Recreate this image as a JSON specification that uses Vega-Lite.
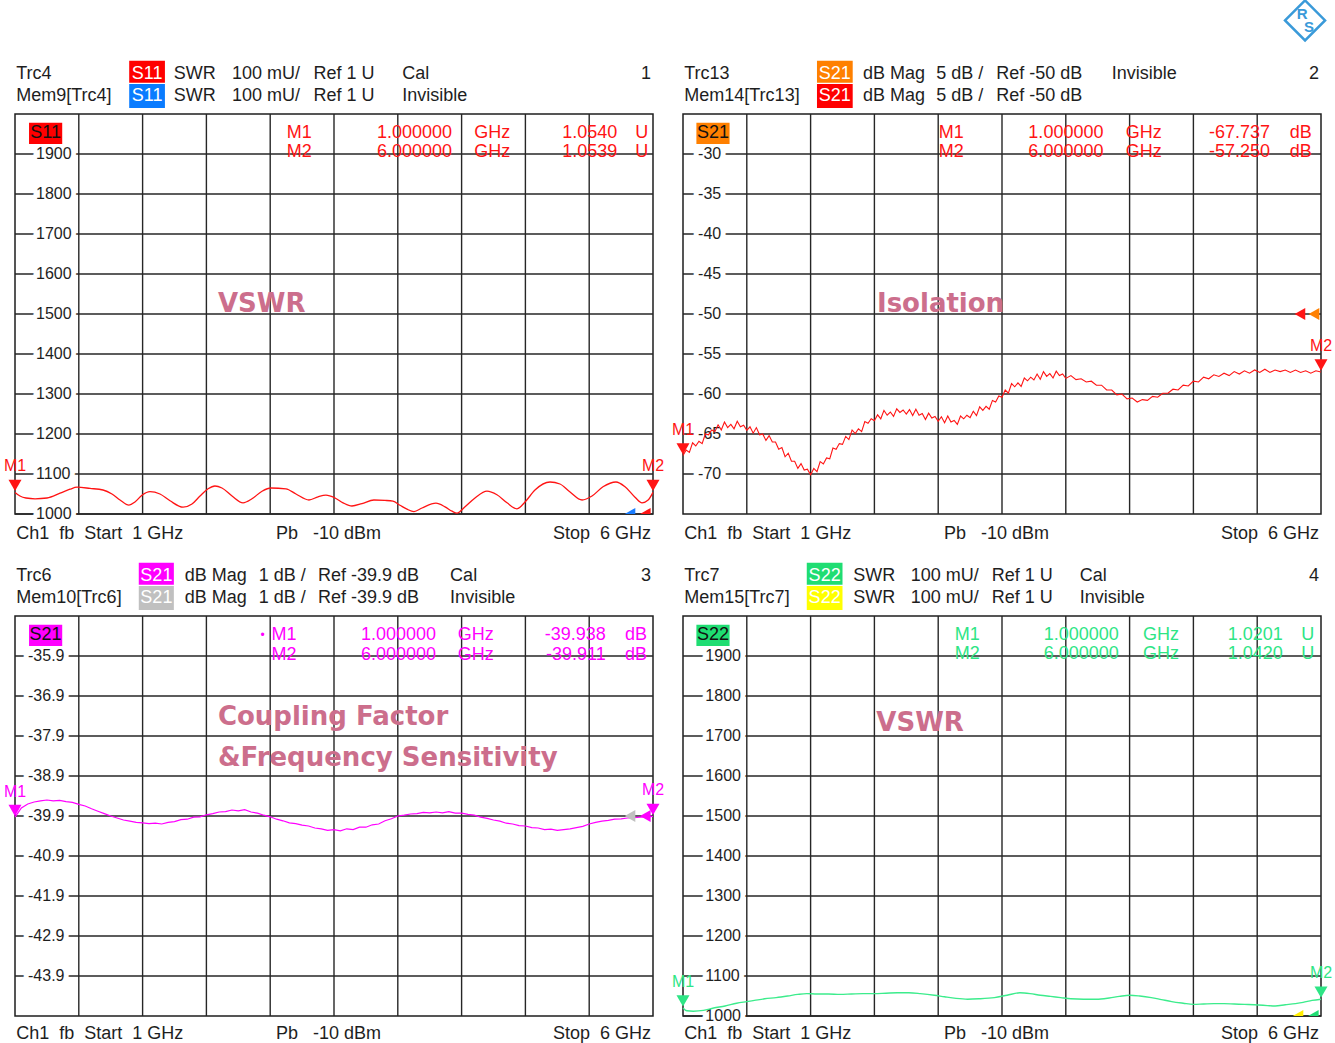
{
"$schema": "https://vega.github.io/schema/vega-lite/v6.json",
"background": "white",
"padding": {"left": -1, "top": -6, "right": 0, "bottom": 0},
"autosize": {"type": "pad"},
"bounds": "flush",
"columns": 2,
"spacing": {"row": 102, "column": 30},
"config": {
  "view": {"stroke": "#1e1e1e", "strokeWidth": 1.5},
  "axis": {"disable": true},
  "text": {"font": "Liberation Sans", "fontSize": 18, "color": "#1e1e1e"}
},
"data": {"values": [{}]},
"datasets": {
  "vgrid": [{"f":1.5},{"f":2},{"f":2.5},{"f":3},{"f":3.5},{"f":4},{"f":4.5},{"f":5},{"f":5.5}],
  "ticks": [
    {"p":1,"v":1900,"lab":"1900"},{"p":1,"v":1800,"lab":"1800"},{"p":1,"v":1700,"lab":"1700"},{"p":1,"v":1600,"lab":"1600"},{"p":1,"v":1500,"lab":"1500"},{"p":1,"v":1400,"lab":"1400"},{"p":1,"v":1300,"lab":"1300"},{"p":1,"v":1200,"lab":"1200"},{"p":1,"v":1100,"lab":"1100"},{"p":1,"v":1000,"lab":"1000"},
    {"p":2,"v":-30,"lab":"-30"},{"p":2,"v":-35,"lab":"-35"},{"p":2,"v":-40,"lab":"-40"},{"p":2,"v":-45,"lab":"-45"},{"p":2,"v":-50,"lab":"-50"},{"p":2,"v":-55,"lab":"-55"},{"p":2,"v":-60,"lab":"-60"},{"p":2,"v":-65,"lab":"-65"},{"p":2,"v":-70,"lab":"-70"},
    {"p":3,"v":-35.9,"lab":"-35.9"},{"p":3,"v":-36.9,"lab":"-36.9"},{"p":3,"v":-37.9,"lab":"-37.9"},{"p":3,"v":-38.9,"lab":"-38.9"},{"p":3,"v":-39.9,"lab":"-39.9"},{"p":3,"v":-40.9,"lab":"-40.9"},{"p":3,"v":-41.9,"lab":"-41.9"},{"p":3,"v":-42.9,"lab":"-42.9"},{"p":3,"v":-43.9,"lab":"-43.9"},
    {"p":4,"v":1900,"lab":"1900"},{"p":4,"v":1800,"lab":"1800"},{"p":4,"v":1700,"lab":"1700"},{"p":4,"v":1600,"lab":"1600"},{"p":4,"v":1500,"lab":"1500"},{"p":4,"v":1400,"lab":"1400"},{"p":4,"v":1300,"lab":"1300"},{"p":4,"v":1200,"lab":"1200"},{"p":4,"v":1100,"lab":"1100"},{"p":4,"v":1000,"lab":"1000"}
  ],
  "markers": [
    {"p":1,"m":"M1","f":1,"v":1054.0},{"p":1,"m":"M2","f":6,"v":1053.9},
    {"p":2,"m":"M1","f":1,"v":-67.737},{"p":2,"m":"M2","f":6,"v":-57.25},
    {"p":3,"m":"M1","f":1,"v":-39.938},{"p":3,"m":"M2","f":6,"v":-39.911},
    {"p":4,"m":"M1","f":1,"v":1020.1},{"p":4,"m":"M2","f":6,"v":1042.0}
  ],
  "trace": [
    {"p":1,"f":1.000,"v":1054},{"p":1,"f":1.039,"v":1045},{"p":1,"f":1.086,"v":1040},{"p":1,"f":1.157,"v":1038},{"p":1,"f":1.251,"v":1040},{"p":1,"f":1.353,"v":1052},{"p":1,"f":1.431,"v":1062},{"p":1,"f":1.486,"v":1067},{"p":1,"f":1.588,"v":1064},{"p":1,"f":1.690,"v":1060},{"p":1,"f":1.760,"v":1050},{"p":1,"f":1.823,"v":1035},{"p":1,"f":1.893,"v":1022},{"p":1,"f":1.940,"v":1030},{"p":1,"f":1.995,"v":1047},{"p":1,"f":2.058,"v":1056},{"p":1,"f":2.136,"v":1050},{"p":1,"f":2.215,"v":1033},{"p":1,"f":2.317,"v":1017},{"p":1,"f":2.387,"v":1025},{"p":1,"f":2.450,"v":1045},{"p":1,"f":2.513,"v":1063},{"p":1,"f":2.567,"v":1070},{"p":1,"f":2.622,"v":1065},{"p":1,"f":2.701,"v":1045},{"p":1,"f":2.787,"v":1028},{"p":1,"f":2.857,"v":1038},{"p":1,"f":2.936,"v":1057},{"p":1,"f":3.006,"v":1065},{"p":1,"f":3.124,"v":1063},{"p":1,"f":3.202,"v":1050},{"p":1,"f":3.304,"v":1035},{"p":1,"f":3.375,"v":1043},{"p":1,"f":3.437,"v":1047},{"p":1,"f":3.508,"v":1040},{"p":1,"f":3.571,"v":1028},{"p":1,"f":3.641,"v":1020},{"p":1,"f":3.719,"v":1026},{"p":1,"f":3.813,"v":1035},{"p":1,"f":3.900,"v":1034},{"p":1,"f":3.962,"v":1032},{"p":1,"f":4.017,"v":1022},{"p":1,"f":4.072,"v":1012},{"p":1,"f":4.127,"v":1006},{"p":1,"f":4.190,"v":1015},{"p":1,"f":4.299,"v":1027},{"p":1,"f":4.370,"v":1018},{"p":1,"f":4.425,"v":1007},{"p":1,"f":4.464,"v":1002},{"p":1,"f":4.527,"v":1018},{"p":1,"f":4.605,"v":1040},{"p":1,"f":4.699,"v":1057},{"p":1,"f":4.777,"v":1048},{"p":1,"f":4.856,"v":1028},{"p":1,"f":4.934,"v":1013},{"p":1,"f":4.997,"v":1030},{"p":1,"f":5.075,"v":1060},{"p":1,"f":5.193,"v":1080},{"p":1,"f":5.271,"v":1075},{"p":1,"f":5.350,"v":1055},{"p":1,"f":5.444,"v":1035},{"p":1,"f":5.522,"v":1045},{"p":1,"f":5.608,"v":1068},{"p":1,"f":5.710,"v":1080},{"p":1,"f":5.781,"v":1068},{"p":1,"f":5.859,"v":1042},{"p":1,"f":5.914,"v":1028},{"p":1,"f":5.962,"v":1035},{"p":1,"f":6.000,"v":1054},
    {"p":2,"f":1.000,"v":-67.7},{"p":2,"f":1.025,"v":-67.0},{"p":2,"f":1.050,"v":-67.3},{"p":2,"f":1.075,"v":-66.1},{"p":2,"f":1.100,"v":-66.5},{"p":2,"f":1.125,"v":-65.9},{"p":2,"f":1.150,"v":-66.2},{"p":2,"f":1.175,"v":-65.0},{"p":2,"f":1.200,"v":-65.1},{"p":2,"f":1.225,"v":-64.5},{"p":2,"f":1.250,"v":-64.7},{"p":2,"f":1.275,"v":-63.85},{"p":2,"f":1.300,"v":-64.5},{"p":2,"f":1.325,"v":-63.5},{"p":2,"f":1.350,"v":-64.2},{"p":2,"f":1.375,"v":-63.8},{"p":2,"f":1.400,"v":-64.35},{"p":2,"f":1.425,"v":-63.4},{"p":2,"f":1.450,"v":-64.1},{"p":2,"f":1.475,"v":-63.9},{"p":2,"f":1.500,"v":-64.55},{"p":2,"f":1.525,"v":-64.1},{"p":2,"f":1.550,"v":-64.9},{"p":2,"f":1.575,"v":-64.2},{"p":2,"f":1.600,"v":-65.1},{"p":2,"f":1.625,"v":-65.0},{"p":2,"f":1.650,"v":-65.8},{"p":2,"f":1.675,"v":-65.2},{"p":2,"f":1.700,"v":-66.0},{"p":2,"f":1.725,"v":-66.0},{"p":2,"f":1.750,"v":-66.9},{"p":2,"f":1.775,"v":-66.7},{"p":2,"f":1.800,"v":-67.85},{"p":2,"f":1.825,"v":-67.4},{"p":2,"f":1.850,"v":-68.4},{"p":2,"f":1.875,"v":-68.4},{"p":2,"f":1.900,"v":-69.3},{"p":2,"f":1.925,"v":-68.7},{"p":2,"f":1.950,"v":-69.5},{"p":2,"f":1.975,"v":-69.4},{"p":2,"f":2.000,"v":-70.1},{"p":2,"f":2.025,"v":-69.3},{"p":2,"f":2.050,"v":-69.7},{"p":2,"f":2.075,"v":-68.45},{"p":2,"f":2.100,"v":-68.75},{"p":2,"f":2.125,"v":-68.0},{"p":2,"f":2.150,"v":-68.1},{"p":2,"f":2.175,"v":-66.75},{"p":2,"f":2.200,"v":-66.9},{"p":2,"f":2.225,"v":-66.2},{"p":2,"f":2.250,"v":-66.3},{"p":2,"f":2.275,"v":-65.3},{"p":2,"f":2.300,"v":-65.7},{"p":2,"f":2.325,"v":-64.5},{"p":2,"f":2.350,"v":-64.95},{"p":2,"f":2.375,"v":-64.35},{"p":2,"f":2.400,"v":-64.7},{"p":2,"f":2.425,"v":-63.45},{"p":2,"f":2.450,"v":-63.65},{"p":2,"f":2.475,"v":-63.1},{"p":2,"f":2.500,"v":-63.35},{"p":2,"f":2.525,"v":-62.6},{"p":2,"f":2.550,"v":-63.1},{"p":2,"f":2.575,"v":-62.05},{"p":2,"f":2.600,"v":-62.65},{"p":2,"f":2.625,"v":-62.25},{"p":2,"f":2.650,"v":-62.8},{"p":2,"f":2.675,"v":-61.85},{"p":2,"f":2.700,"v":-62.3},{"p":2,"f":2.725,"v":-62.0},{"p":2,"f":2.750,"v":-62.5},{"p":2,"f":2.775,"v":-61.95},{"p":2,"f":2.800,"v":-62.7},{"p":2,"f":2.825,"v":-61.9},{"p":2,"f":2.850,"v":-62.65},{"p":2,"f":2.875,"v":-62.45},{"p":2,"f":2.900,"v":-63.2},{"p":2,"f":2.925,"v":-62.4},{"p":2,"f":2.950,"v":-63.0},{"p":2,"f":2.975,"v":-62.8},{"p":2,"f":3.000,"v":-63.4},{"p":2,"f":3.025,"v":-62.85},{"p":2,"f":3.050,"v":-63.6},{"p":2,"f":3.075,"v":-62.75},{"p":2,"f":3.100,"v":-63.5},{"p":2,"f":3.125,"v":-63.3},{"p":2,"f":3.150,"v":-63.8},{"p":2,"f":3.175,"v":-62.75},{"p":2,"f":3.200,"v":-63.1},{"p":2,"f":3.225,"v":-62.65},{"p":2,"f":3.250,"v":-62.95},{"p":2,"f":3.275,"v":-62.15},{"p":2,"f":3.300,"v":-62.7},{"p":2,"f":3.325,"v":-61.6},{"p":2,"f":3.350,"v":-62.05},{"p":2,"f":3.375,"v":-61.55},{"p":2,"f":3.400,"v":-61.9},{"p":2,"f":3.425,"v":-60.8},{"p":2,"f":3.450,"v":-61.0},{"p":2,"f":3.475,"v":-60.25},{"p":2,"f":3.500,"v":-60.4},{"p":2,"f":3.525,"v":-59.5},{"p":2,"f":3.550,"v":-59.9},{"p":2,"f":3.575,"v":-58.7},{"p":2,"f":3.600,"v":-59.1},{"p":2,"f":3.625,"v":-58.6},{"p":2,"f":3.650,"v":-59.05},{"p":2,"f":3.675,"v":-58.0},{"p":2,"f":3.700,"v":-58.35},{"p":2,"f":3.725,"v":-57.9},{"p":2,"f":3.750,"v":-58.25},{"p":2,"f":3.775,"v":-57.5},{"p":2,"f":3.800,"v":-58.15},{"p":2,"f":3.825,"v":-57.2},{"p":2,"f":3.850,"v":-57.8},{"p":2,"f":3.875,"v":-57.45},{"p":2,"f":3.900,"v":-58.0},{"p":2,"f":3.925,"v":-57.15},{"p":2,"f":3.950,"v":-57.7},{"p":2,"f":3.975,"v":-57.5},{"p":2,"f":4.000,"v":-58.05},{"p":2,"f":4.04,"v":-57.7},{"p":2,"f":4.08,"v":-58.2},{"p":2,"f":4.12,"v":-58.1},{"p":2,"f":4.16,"v":-58.5},{"p":2,"f":4.20,"v":-58.4},{"p":2,"f":4.24,"v":-58.9},{"p":2,"f":4.28,"v":-58.9},{"p":2,"f":4.32,"v":-59.5},{"p":2,"f":4.36,"v":-59.5},{"p":2,"f":4.40,"v":-60.1},{"p":2,"f":4.44,"v":-60.0},{"p":2,"f":4.48,"v":-60.6},{"p":2,"f":4.52,"v":-60.5},{"p":2,"f":4.56,"v":-61.0},{"p":2,"f":4.60,"v":-60.7},{"p":2,"f":4.64,"v":-60.8},{"p":2,"f":4.68,"v":-60.3},{"p":2,"f":4.72,"v":-60.4},{"p":2,"f":4.76,"v":-59.9},{"p":2,"f":4.80,"v":-59.9},{"p":2,"f":4.84,"v":-59.4},{"p":2,"f":4.88,"v":-59.5},{"p":2,"f":4.92,"v":-58.9},{"p":2,"f":4.96,"v":-59.0},{"p":2,"f":5.00,"v":-58.4},{"p":2,"f":5.04,"v":-58.5},{"p":2,"f":5.08,"v":-57.9},{"p":2,"f":5.12,"v":-58.1},{"p":2,"f":5.16,"v":-57.6},{"p":2,"f":5.20,"v":-57.8},{"p":2,"f":5.24,"v":-57.4},{"p":2,"f":5.28,"v":-57.7},{"p":2,"f":5.32,"v":-57.2},{"p":2,"f":5.36,"v":-57.5},{"p":2,"f":5.40,"v":-57.1},{"p":2,"f":5.44,"v":-57.4},{"p":2,"f":5.48,"v":-57.0},{"p":2,"f":5.52,"v":-57.3},{"p":2,"f":5.56,"v":-56.9},{"p":2,"f":5.60,"v":-57.3},{"p":2,"f":5.64,"v":-57.0},{"p":2,"f":5.68,"v":-57.2},{"p":2,"f":5.72,"v":-57.0},{"p":2,"f":5.76,"v":-57.3},{"p":2,"f":5.80,"v":-57.0},{"p":2,"f":5.84,"v":-57.3},{"p":2,"f":5.88,"v":-57.1},{"p":2,"f":5.92,"v":-57.4},{"p":2,"f":5.96,"v":-57.1},{"p":2,"f":6.00,"v":-57.25},
    {"p":3,"f":1.00,"v":-39.93},{"p":3,"f":1.05,"v":-39.70},{"p":3,"f":1.10,"v":-39.60},{"p":3,"f":1.15,"v":-39.55},{"p":3,"f":1.20,"v":-39.52},{"p":3,"f":1.25,"v":-39.50},{"p":3,"f":1.30,"v":-39.52},{"p":3,"f":1.35,"v":-39.51},{"p":3,"f":1.40,"v":-39.54},{"p":3,"f":1.45,"v":-39.56},{"p":3,"f":1.50,"v":-39.61},{"p":3,"f":1.55,"v":-39.65},{"p":3,"f":1.60,"v":-39.72},{"p":3,"f":1.65,"v":-39.78},{"p":3,"f":1.70,"v":-39.84},{"p":3,"f":1.75,"v":-39.90},{"p":3,"f":1.80,"v":-39.95},{"p":3,"f":1.85,"v":-40.00},{"p":3,"f":1.90,"v":-40.03},{"p":3,"f":1.95,"v":-40.06},{"p":3,"f":2.00,"v":-40.07},{"p":3,"f":2.05,"v":-40.09},{"p":3,"f":2.10,"v":-40.08},{"p":3,"f":2.15,"v":-40.10},{"p":3,"f":2.20,"v":-40.06},{"p":3,"f":2.25,"v":-40.04},{"p":3,"f":2.30,"v":-39.99},{"p":3,"f":2.35,"v":-39.98},{"p":3,"f":2.40,"v":-39.93},{"p":3,"f":2.45,"v":-39.92},{"p":3,"f":2.50,"v":-39.87},{"p":3,"f":2.55,"v":-39.84},{"p":3,"f":2.60,"v":-39.80},{"p":3,"f":2.65,"v":-39.79},{"p":3,"f":2.70,"v":-39.75},{"p":3,"f":2.75,"v":-39.77},{"p":3,"f":2.80,"v":-39.74},{"p":3,"f":2.85,"v":-39.80},{"p":3,"f":2.90,"v":-39.83},{"p":3,"f":2.95,"v":-39.88},{"p":3,"f":3.00,"v":-39.92},{"p":3,"f":3.05,"v":-39.98},{"p":3,"f":3.10,"v":-40.02},{"p":3,"f":3.15,"v":-40.07},{"p":3,"f":3.20,"v":-40.09},{"p":3,"f":3.25,"v":-40.13},{"p":3,"f":3.30,"v":-40.15},{"p":3,"f":3.35,"v":-40.20},{"p":3,"f":3.40,"v":-40.22},{"p":3,"f":3.45,"v":-40.26},{"p":3,"f":3.50,"v":-40.24},{"p":3,"f":3.55,"v":-40.27},{"p":3,"f":3.60,"v":-40.22},{"p":3,"f":3.65,"v":-40.24},{"p":3,"f":3.70,"v":-40.18},{"p":3,"f":3.75,"v":-40.18},{"p":3,"f":3.80,"v":-40.12},{"p":3,"f":3.85,"v":-40.10},{"p":3,"f":3.90,"v":-40.02},{"p":3,"f":3.95,"v":-39.97},{"p":3,"f":4.00,"v":-39.90},{"p":3,"f":4.05,"v":-39.88},{"p":3,"f":4.10,"v":-39.85},{"p":3,"f":4.15,"v":-39.84},{"p":3,"f":4.20,"v":-39.81},{"p":3,"f":4.25,"v":-39.82},{"p":3,"f":4.30,"v":-39.80},{"p":3,"f":4.35,"v":-39.82},{"p":3,"f":4.40,"v":-39.79},{"p":3,"f":4.45,"v":-39.83},{"p":3,"f":4.50,"v":-39.83},{"p":3,"f":4.55,"v":-39.86},{"p":3,"f":4.60,"v":-39.88},{"p":3,"f":4.65,"v":-39.93},{"p":3,"f":4.70,"v":-39.96},{"p":3,"f":4.75,"v":-40.00},{"p":3,"f":4.80,"v":-40.03},{"p":3,"f":4.85,"v":-40.08},{"p":3,"f":4.90,"v":-40.10},{"p":3,"f":4.95,"v":-40.14},{"p":3,"f":5.00,"v":-40.15},{"p":3,"f":5.05,"v":-40.19},{"p":3,"f":5.10,"v":-40.20},{"p":3,"f":5.15,"v":-40.24},{"p":3,"f":5.20,"v":-40.23},{"p":3,"f":5.25,"v":-40.26},{"p":3,"f":5.30,"v":-40.24},{"p":3,"f":5.35,"v":-40.22},{"p":3,"f":5.40,"v":-40.19},{"p":3,"f":5.45,"v":-40.16},{"p":3,"f":5.50,"v":-40.10},{"p":3,"f":5.55,"v":-40.06},{"p":3,"f":5.60,"v":-40.03},{"p":3,"f":5.65,"v":-40.01},{"p":3,"f":5.70,"v":-39.98},{"p":3,"f":5.75,"v":-39.97},{"p":3,"f":5.80,"v":-39.95},{"p":3,"f":5.85,"v":-39.94},{"p":3,"f":5.90,"v":-39.93},{"p":3,"f":5.95,"v":-39.92},{"p":3,"f":6.00,"v":-39.91},
    {"p":4,"f":1.00,"v":1020.1},{"p":4,"f":1.03,"v":1013},{"p":4,"f":1.08,"v":1012},{"p":4,"f":1.16,"v":1014},{"p":4,"f":1.24,"v":1020},{"p":4,"f":1.33,"v":1025},{"p":4,"f":1.42,"v":1032},{"p":4,"f":1.50,"v":1036},{"p":4,"f":1.56,"v":1039},{"p":4,"f":1.64,"v":1043},{"p":4,"f":1.73,"v":1046},{"p":4,"f":1.82,"v":1050},{"p":4,"f":1.90,"v":1054},{"p":4,"f":1.97,"v":1056},{"p":4,"f":2.05,"v":1055},{"p":4,"f":2.14,"v":1055},{"p":4,"f":2.23,"v":1054},{"p":4,"f":2.32,"v":1055},{"p":4,"f":2.41,"v":1056},{"p":4,"f":2.50,"v":1056},{"p":4,"f":2.59,"v":1057},{"p":4,"f":2.68,"v":1058},{"p":4,"f":2.77,"v":1058},{"p":4,"f":2.86,"v":1056},{"p":4,"f":2.97,"v":1052},{"p":4,"f":3.05,"v":1048},{"p":4,"f":3.14,"v":1044},{"p":4,"f":3.23,"v":1042},{"p":4,"f":3.32,"v":1043},{"p":4,"f":3.44,"v":1046},{"p":4,"f":3.54,"v":1052},{"p":4,"f":3.64,"v":1058},{"p":4,"f":3.72,"v":1056},{"p":4,"f":3.80,"v":1052},{"p":4,"f":3.88,"v":1049},{"p":4,"f":3.96,"v":1046},{"p":4,"f":4.04,"v":1043},{"p":4,"f":4.14,"v":1042},{"p":4,"f":4.24,"v":1042},{"p":4,"f":4.34,"v":1045},{"p":4,"f":4.42,"v":1049},{"p":4,"f":4.50,"v":1052},{"p":4,"f":4.58,"v":1050},{"p":4,"f":4.67,"v":1046},{"p":4,"f":4.75,"v":1041},{"p":4,"f":4.83,"v":1036},{"p":4,"f":4.92,"v":1032},{"p":4,"f":5.00,"v":1029},{"p":4,"f":5.08,"v":1030},{"p":4,"f":5.16,"v":1031},{"p":4,"f":5.24,"v":1031},{"p":4,"f":5.32,"v":1030},{"p":4,"f":5.40,"v":1029},{"p":4,"f":5.51,"v":1027.5},{"p":4,"f":5.58,"v":1026},{"p":4,"f":5.64,"v":1025},{"p":4,"f":5.72,"v":1028},{"p":4,"f":5.80,"v":1031},{"p":4,"f":5.86,"v":1034},{"p":4,"f":5.93,"v":1039},{"p":4,"f":6.00,"v":1042}
  ]
},
"concat": [
{
 "width": 638, "height": 400,
 "layer": [
  {"data":{"name":"vgrid"},"mark":{"type":"rule","color":"#262626","strokeWidth":1.4},"encoding":{"x":{"field":"f","type":"quantitative","scale":{"domain":[1,6],"nice":false,"zero":false}}}},
  {"data":{"name":"ticks"},"transform":[{"filter":"datum.p==1"}],"mark":{"type":"rule","color":"#262626","strokeWidth":1.4},"encoding":{"y":{"field":"v","type":"quantitative","scale":{"domain":[1000,2000],"nice":false,"zero":false}}}},
  {"data":{"name":"ticks"},"transform":[{"filter":"datum.p==1"}],"mark":{"type":"text","align":"left","fontSize":16,"fill":"white","stroke":"white","strokeWidth":10,"strokeJoin":"round"},"encoding":{"x":{"datum":1.165,"type":"quantitative"},"y":{"field":"v","type":"quantitative"},"text":{"field":"lab","type":"nominal"}}},
  {"data":{"name":"ticks"},"transform":[{"filter":"datum.p==1"}],"mark":{"type":"text","align":"left","fontSize":16},"encoding":{"x":{"datum":1.165,"type":"quantitative"},"y":{"field":"v","type":"quantitative"},"text":{"field":"lab","type":"nominal"}}},
  {"data":{"name":"trace"},"transform":[{"filter":"datum.p==1"}],"mark":{"type":"line","color":"#ff1414","strokeWidth":1.3,"interpolate":"monotone"},"encoding":{"x":{"field":"f","type":"quantitative"},"y":{"field":"v","type":"quantitative"}}},
  {"mark":{"type":"point","shape":"triangle-left","filled":true,"size":150,"color":"#1a7dff","opacity":1,"clip":true},"encoding":{"x":{"datum":5.82,"type":"quantitative"},"y":{"datum":1000,"type":"quantitative"}}},
  {"mark":{"type":"point","shape":"triangle-left","filled":true,"size":150,"color":"#ff1414","opacity":1,"clip":true},"encoding":{"x":{"datum":5.94,"type":"quantitative"},"y":{"datum":1000,"type":"quantitative"}}},
  {"data":{"name":"markers"},"transform":[{"filter":"datum.p==1"}],"mark":{"type":"point","shape":"triangle-down","filled":true,"size":170,"color":"#ff1414","opacity":1,"yOffset":-7},"encoding":{"x":{"field":"f","type":"quantitative"},"y":{"field":"v","type":"quantitative"}}},
  {"data":{"name":"markers"},"transform":[{"filter":"datum.p==1"}],"mark":{"type":"text","fontSize":16,"color":"#ff1414","yOffset":-26},"encoding":{"x":{"field":"f","type":"quantitative"},"y":{"field":"v","type":"quantitative"},"text":{"field":"m","type":"nominal"}}},
  {"mark":{"type":"rect","color":"white"},"encoding":{"x":{"datum":0.8824,"type":"quantitative"},"x2":{"datum":0.898},"y":{"datum":2282.5,"type":"quantitative"},"y2":{"datum":2278}}},
  {"mark":{"type":"text","align":"left","text":["Trc4","Mem9[Trc4]"],"lineHeight":22.4},"encoding":{"x":{"datum":1.01,"type":"quantitative"},"y":{"datum":2100,"type":"quantitative"}}},
  {"mark":{"type":"rect","color":"#ff0000"},"encoding":{"x":{"datum":1.895,"type":"quantitative"},"x2":{"datum":2.175},"y":{"datum":2078,"type":"quantitative"},"y2":{"datum":2133}}},
  {"mark":{"type":"rect","color":"#0a7cff"},"encoding":{"x":{"datum":1.895,"type":"quantitative"},"x2":{"datum":2.175},"y":{"datum":2015,"type":"quantitative"},"y2":{"datum":2075}}},
  {"mark":{"type":"text","text":["S11","S11"],"lineHeight":22.4,"color":"white"},"encoding":{"x":{"datum":2.035,"type":"quantitative"},"y":{"datum":2100,"type":"quantitative"}}},
  {"mark":{"type":"text","align":"left","text":["SWR","SWR"],"lineHeight":22.4},"encoding":{"x":{"datum":2.245,"type":"quantitative"},"y":{"datum":2100,"type":"quantitative"}}},
  {"mark":{"type":"text","align":"left","text":["100 mU/","100 mU/"],"lineHeight":22.4},"encoding":{"x":{"datum":2.70,"type":"quantitative"},"y":{"datum":2100,"type":"quantitative"}}},
  {"mark":{"type":"text","align":"left","text":["Ref 1 U","Ref 1 U"],"lineHeight":22.4},"encoding":{"x":{"datum":3.34,"type":"quantitative"},"y":{"datum":2100,"type":"quantitative"}}},
  {"mark":{"type":"text","align":"left","text":["Cal","Invisible"],"lineHeight":22.4},"encoding":{"x":{"datum":4.035,"type":"quantitative"},"y":{"datum":2100,"type":"quantitative"}}},
  {"mark":{"type":"text","align":"right","text":"1"},"encoding":{"x":{"datum":5.985,"type":"quantitative"},"y":{"datum":2100,"type":"quantitative"}}},
  {"mark":{"type":"rect","color":"#ff0000"},"encoding":{"x":{"datum":1.11,"type":"quantitative"},"x2":{"datum":1.37},"y":{"datum":1925,"type":"quantitative"},"y2":{"datum":1978}}},
  {"mark":{"type":"text","text":"S11","color":"#111111"},"encoding":{"x":{"datum":1.24,"type":"quantitative"},"y":{"datum":1951.5,"type":"quantitative"}}},
  {"mark":{"type":"text","align":"left","text":["M1","M2"],"lineHeight":19.5,"color":"#ff1414"},"encoding":{"x":{"datum":3.13,"type":"quantitative"},"y":{"datum":1953,"type":"quantitative"}}},
  {"mark":{"type":"text","align":"right","text":["1.000000","6.000000"],"lineHeight":19.5,"color":"#ff1414"},"encoding":{"x":{"datum":4.425,"type":"quantitative"},"y":{"datum":1953,"type":"quantitative"}}},
  {"mark":{"type":"text","align":"left","text":["GHz","GHz"],"lineHeight":19.5,"color":"#ff1414"},"encoding":{"x":{"datum":4.60,"type":"quantitative"},"y":{"datum":1953,"type":"quantitative"}}},
  {"mark":{"type":"text","align":"right","text":["1.0540","1.0539"],"lineHeight":19.5,"color":"#ff1414"},"encoding":{"x":{"datum":5.72,"type":"quantitative"},"y":{"datum":1953,"type":"quantitative"}}},
  {"mark":{"type":"text","align":"left","text":["U","U"],"lineHeight":19.5,"color":"#ff1414"},"encoding":{"x":{"datum":5.86,"type":"quantitative"},"y":{"datum":1953,"type":"quantitative"}}},
  {"mark":{"type":"text","align":"left","text":"Ch1\u00a0\u00a0fb\u00a0\u00a0Start\u00a0\u00a01 GHz"},"encoding":{"x":{"datum":1.01,"type":"quantitative"},"y":{"datum":951,"type":"quantitative"}}},
  {"mark":{"type":"text","align":"left","text":"Pb\u00a0\u00a0\u00a0-10 dBm"},"encoding":{"x":{"datum":3.045,"type":"quantitative"},"y":{"datum":951,"type":"quantitative"}}},
  {"mark":{"type":"text","align":"right","text":"Stop\u00a0\u00a06 GHz"},"encoding":{"x":{"datum":5.985,"type":"quantitative"},"y":{"datum":951,"type":"quantitative"}}},
  {"mark":{"type":"text","align":"left","text":"VSWR","font":"DejaVu Sans","fontWeight":"bold","fontSize":26,"color":"#cc6e8c"},"encoding":{"x":{"datum":2.59,"type":"quantitative"},"y":{"datum":1525,"type":"quantitative"}}}
 ]
},
{
 "width": 638, "height": 400,
 "layer": [
  {"data":{"name":"vgrid"},"mark":{"type":"rule","color":"#262626","strokeWidth":1.4},"encoding":{"x":{"field":"f","type":"quantitative","scale":{"domain":[1,6],"nice":false,"zero":false}}}},
  {"data":{"name":"ticks"},"transform":[{"filter":"datum.p==2"}],"mark":{"type":"rule","color":"#262626","strokeWidth":1.4},"encoding":{"y":{"field":"v","type":"quantitative","scale":{"domain":[-75,-25],"nice":false,"zero":false}}}},
  {"data":{"name":"ticks"},"transform":[{"filter":"datum.p==2"}],"mark":{"type":"text","align":"left","fontSize":16,"fill":"white","stroke":"white","strokeWidth":10,"strokeJoin":"round"},"encoding":{"x":{"datum":1.118,"type":"quantitative"},"y":{"field":"v","type":"quantitative"},"text":{"field":"lab","type":"nominal"}}},
  {"data":{"name":"ticks"},"transform":[{"filter":"datum.p==2"}],"mark":{"type":"text","align":"left","fontSize":16},"encoding":{"x":{"datum":1.118,"type":"quantitative"},"y":{"field":"v","type":"quantitative"},"text":{"field":"lab","type":"nominal"}}},
  {"data":{"name":"trace"},"transform":[{"filter":"datum.p==2"}],"mark":{"type":"line","color":"#ff1414","strokeWidth":1.1},"encoding":{"x":{"field":"f","type":"quantitative"},"y":{"field":"v","type":"quantitative"}}},
  {"mark":{"type":"point","shape":"triangle-left","filled":true,"size":150,"color":"#ff1414","opacity":1},"encoding":{"x":{"datum":5.835,"type":"quantitative"},"y":{"datum":-50,"type":"quantitative"}}},
  {"mark":{"type":"point","shape":"triangle-left","filled":true,"size":150,"color":"#ff8000","opacity":1},"encoding":{"x":{"datum":5.945,"type":"quantitative"},"y":{"datum":-50,"type":"quantitative"}}},
  {"data":{"name":"markers"},"transform":[{"filter":"datum.p==2"}],"mark":{"type":"point","shape":"triangle-down","filled":true,"size":170,"color":"#ff1414","opacity":1,"yOffset":-7},"encoding":{"x":{"field":"f","type":"quantitative"},"y":{"field":"v","type":"quantitative"}}},
  {"data":{"name":"markers"},"transform":[{"filter":"datum.p==2"}],"mark":{"type":"text","fontSize":16,"color":"#ff1414","yOffset":-26},"encoding":{"x":{"field":"f","type":"quantitative"},"y":{"field":"v","type":"quantitative"},"text":{"field":"m","type":"nominal"}}},
  {"mark":{"type":"text","align":"left","text":["Trc13","Mem14[Trc13]"],"lineHeight":22.4},"encoding":{"x":{"datum":1.01,"type":"quantitative"},"y":{"datum":-20.0,"type":"quantitative"}}},
  {"mark":{"type":"rect","color":"#ff8000"},"encoding":{"x":{"datum":2.05,"type":"quantitative"},"x2":{"datum":2.33},"y":{"datum":-21.1,"type":"quantitative"},"y2":{"datum":-18.35}}},
  {"mark":{"type":"rect","color":"#ff0000"},"encoding":{"x":{"datum":2.05,"type":"quantitative"},"x2":{"datum":2.33},"y":{"datum":-24.25,"type":"quantitative"},"y2":{"datum":-21.25}}},
  {"mark":{"type":"text","text":["S21","S21"],"lineHeight":22.4,"color":"white"},"encoding":{"x":{"datum":2.19,"type":"quantitative"},"y":{"datum":-20.0,"type":"quantitative"}}},
  {"mark":{"type":"text","align":"left","text":["dB Mag","dB Mag"],"lineHeight":22.4},"encoding":{"x":{"datum":2.41,"type":"quantitative"},"y":{"datum":-20.0,"type":"quantitative"}}},
  {"mark":{"type":"text","align":"left","text":["5 dB /","5 dB /"],"lineHeight":22.4},"encoding":{"x":{"datum":2.985,"type":"quantitative"},"y":{"datum":-20.0,"type":"quantitative"}}},
  {"mark":{"type":"text","align":"left","text":["Ref -50 dB","Ref -50 dB"],"lineHeight":22.4},"encoding":{"x":{"datum":3.455,"type":"quantitative"},"y":{"datum":-20.0,"type":"quantitative"}}},
  {"mark":{"type":"text","align":"left","text":"Invisible"},"encoding":{"x":{"datum":4.36,"type":"quantitative"},"y":{"datum":-20.0,"type":"quantitative"}}},
  {"mark":{"type":"text","align":"right","text":"2"},"encoding":{"x":{"datum":5.985,"type":"quantitative"},"y":{"datum":-20.0,"type":"quantitative"}}},
  {"mark":{"type":"rect","color":"#ff8000"},"encoding":{"x":{"datum":1.105,"type":"quantitative"},"x2":{"datum":1.365},"y":{"datum":-28.75,"type":"quantitative"},"y2":{"datum":-26.1}}},
  {"mark":{"type":"text","text":"S21","color":"#111111"},"encoding":{"x":{"datum":1.235,"type":"quantitative"},"y":{"datum":-27.4,"type":"quantitative"}}},
  {"mark":{"type":"text","align":"left","text":["M1","M2"],"lineHeight":19.5,"color":"#ff1414"},"encoding":{"x":{"datum":3.005,"type":"quantitative"},"y":{"datum":-27.35,"type":"quantitative"}}},
  {"mark":{"type":"text","align":"right","text":["1.000000","6.000000"],"lineHeight":19.5,"color":"#ff1414"},"encoding":{"x":{"datum":4.295,"type":"quantitative"},"y":{"datum":-27.35,"type":"quantitative"}}},
  {"mark":{"type":"text","align":"left","text":["GHz","GHz"],"lineHeight":19.5,"color":"#ff1414"},"encoding":{"x":{"datum":4.47,"type":"quantitative"},"y":{"datum":-27.35,"type":"quantitative"}}},
  {"mark":{"type":"text","align":"right","text":["-67.737","-57.250"],"lineHeight":19.5,"color":"#ff1414"},"encoding":{"x":{"datum":5.60,"type":"quantitative"},"y":{"datum":-27.35,"type":"quantitative"}}},
  {"mark":{"type":"text","align":"left","text":["dB","dB"],"lineHeight":19.5,"color":"#ff1414"},"encoding":{"x":{"datum":5.755,"type":"quantitative"},"y":{"datum":-27.35,"type":"quantitative"}}},
  {"mark":{"type":"text","align":"left","text":"Ch1\u00a0\u00a0fb\u00a0\u00a0Start\u00a0\u00a01 GHz"},"encoding":{"x":{"datum":1.01,"type":"quantitative"},"y":{"datum":-77.45,"type":"quantitative"}}},
  {"mark":{"type":"text","align":"left","text":"Pb\u00a0\u00a0\u00a0-10 dBm"},"encoding":{"x":{"datum":3.045,"type":"quantitative"},"y":{"datum":-77.45,"type":"quantitative"}}},
  {"mark":{"type":"text","align":"right","text":"Stop\u00a0\u00a06 GHz"},"encoding":{"x":{"datum":5.985,"type":"quantitative"},"y":{"datum":-77.45,"type":"quantitative"}}},
  {"mark":{"type":"text","align":"left","text":"Isolation","font":"DejaVu Sans","fontWeight":"bold","fontSize":26,"color":"#cc6e8c"},"encoding":{"x":{"datum":2.52,"type":"quantitative"},"y":{"datum":-48.75,"type":"quantitative"}}},
  {"mark":{"type":"point","shape":"diamond","filled":false,"size":1600,"color":"#3a9ad9","strokeWidth":2.5,"opacity":1},"encoding":{"x":{"datum":5.875,"type":"quantitative"},"y":{"datum":-13.3,"type":"quantitative"}}},
  {"mark":{"type":"text","text":"R","fontSize":15,"fontWeight":"bold","color":"#3a9ad9","dx":-3,"dy":-6},"encoding":{"x":{"datum":5.875,"type":"quantitative"},"y":{"datum":-13.3,"type":"quantitative"}}},
  {"mark":{"type":"text","text":"S","fontSize":15,"fontWeight":"bold","color":"#3a9ad9","dx":4,"dy":7},"encoding":{"x":{"datum":5.875,"type":"quantitative"},"y":{"datum":-13.3,"type":"quantitative"}}}
 ]
},
{
 "width": 638, "height": 400,
 "layer": [
  {"data":{"name":"vgrid"},"mark":{"type":"rule","color":"#262626","strokeWidth":1.4},"encoding":{"x":{"field":"f","type":"quantitative","scale":{"domain":[1,6],"nice":false,"zero":false}}}},
  {"data":{"name":"ticks"},"transform":[{"filter":"datum.p==3"}],"mark":{"type":"rule","color":"#262626","strokeWidth":1.4},"encoding":{"y":{"field":"v","type":"quantitative","scale":{"domain":[-44.9,-34.9],"nice":false,"zero":false}}}},
  {"data":{"name":"ticks"},"transform":[{"filter":"datum.p==3"}],"mark":{"type":"text","align":"left","fontSize":16,"fill":"white","stroke":"white","strokeWidth":10,"strokeJoin":"round"},"encoding":{"x":{"datum":1.102,"type":"quantitative"},"y":{"field":"v","type":"quantitative"},"text":{"field":"lab","type":"nominal"}}},
  {"data":{"name":"ticks"},"transform":[{"filter":"datum.p==3"}],"mark":{"type":"text","align":"left","fontSize":16},"encoding":{"x":{"datum":1.102,"type":"quantitative"},"y":{"field":"v","type":"quantitative"},"text":{"field":"lab","type":"nominal"}}},
  {"data":{"name":"trace"},"transform":[{"filter":"datum.p==3"}],"mark":{"type":"line","color":"#ff00ff","strokeWidth":1.2},"encoding":{"x":{"field":"f","type":"quantitative"},"y":{"field":"v","type":"quantitative"}}},
  {"mark":{"type":"point","shape":"triangle-left","filled":true,"size":150,"color":"#c0c0c0","opacity":1},"encoding":{"x":{"datum":5.82,"type":"quantitative"},"y":{"datum":-39.9,"type":"quantitative"}}},
  {"mark":{"type":"point","shape":"triangle-left","filled":true,"size":150,"color":"#ff00ff","opacity":1},"encoding":{"x":{"datum":5.94,"type":"quantitative"},"y":{"datum":-39.9,"type":"quantitative"}}},
  {"data":{"name":"markers"},"transform":[{"filter":"datum.p==3"}],"mark":{"type":"point","shape":"triangle-down","filled":true,"size":170,"color":"#ff00ff","opacity":1,"yOffset":-7},"encoding":{"x":{"field":"f","type":"quantitative"},"y":{"field":"v","type":"quantitative"}}},
  {"data":{"name":"markers"},"transform":[{"filter":"datum.p==3"}],"mark":{"type":"text","fontSize":16,"color":"#ff00ff","yOffset":-26},"encoding":{"x":{"field":"f","type":"quantitative"},"y":{"field":"v","type":"quantitative"},"text":{"field":"m","type":"nominal"}}},
  {"mark":{"type":"text","align":"left","text":["Trc6","Mem10[Trc6]"],"lineHeight":22.4},"encoding":{"x":{"datum":1.01,"type":"quantitative"},"y":{"datum":-33.9,"type":"quantitative"}}},
  {"mark":{"type":"rect","color":"#ff00ff"},"encoding":{"x":{"datum":1.97,"type":"quantitative"},"x2":{"datum":2.245},"y":{"datum":-34.12,"type":"quantitative"},"y2":{"datum":-33.57}}},
  {"mark":{"type":"rect","color":"#c0c0c0"},"encoding":{"x":{"datum":1.97,"type":"quantitative"},"x2":{"datum":2.245},"y":{"datum":-34.75,"type":"quantitative"},"y2":{"datum":-34.15}}},
  {"mark":{"type":"text","text":["S21","S21"],"lineHeight":22.4,"color":"white"},"encoding":{"x":{"datum":2.108,"type":"quantitative"},"y":{"datum":-33.9,"type":"quantitative"}}},
  {"mark":{"type":"text","align":"left","text":["dB Mag","dB Mag"],"lineHeight":22.4},"encoding":{"x":{"datum":2.33,"type":"quantitative"},"y":{"datum":-33.9,"type":"quantitative"}}},
  {"mark":{"type":"text","align":"left","text":["1 dB /","1 dB /"],"lineHeight":22.4},"encoding":{"x":{"datum":2.91,"type":"quantitative"},"y":{"datum":-33.9,"type":"quantitative"}}},
  {"mark":{"type":"text","align":"left","text":["Ref -39.9 dB","Ref -39.9 dB"],"lineHeight":22.4},"encoding":{"x":{"datum":3.375,"type":"quantitative"},"y":{"datum":-33.9,"type":"quantitative"}}},
  {"mark":{"type":"text","align":"left","text":["Cal","Invisible"],"lineHeight":22.4},"encoding":{"x":{"datum":4.41,"type":"quantitative"},"y":{"datum":-33.9,"type":"quantitative"}}},
  {"mark":{"type":"text","align":"right","text":"3"},"encoding":{"x":{"datum":5.985,"type":"quantitative"},"y":{"datum":-33.9,"type":"quantitative"}}},
  {"mark":{"type":"rect","color":"#ff00ff"},"encoding":{"x":{"datum":1.11,"type":"quantitative"},"x2":{"datum":1.37},"y":{"datum":-35.65,"type":"quantitative"},"y2":{"datum":-35.12}}},
  {"mark":{"type":"text","text":"S21","color":"#111111"},"encoding":{"x":{"datum":1.24,"type":"quantitative"},"y":{"datum":-35.385,"type":"quantitative"}}},
  {"mark":{"type":"text","text":"•","fontSize":12,"color":"#ff00ff"},"encoding":{"x":{"datum":2.94,"type":"quantitative"},"y":{"datum":-35.38,"type":"quantitative"}}},
  {"mark":{"type":"text","align":"left","text":["M1","M2"],"lineHeight":19.5,"color":"#ff00ff"},"encoding":{"x":{"datum":3.01,"type":"quantitative"},"y":{"datum":-35.38,"type":"quantitative"}}},
  {"mark":{"type":"text","align":"right","text":["1.000000","6.000000"],"lineHeight":19.5,"color":"#ff00ff"},"encoding":{"x":{"datum":4.30,"type":"quantitative"},"y":{"datum":-35.38,"type":"quantitative"}}},
  {"mark":{"type":"text","align":"left","text":["GHz","GHz"],"lineHeight":19.5,"color":"#ff00ff"},"encoding":{"x":{"datum":4.47,"type":"quantitative"},"y":{"datum":-35.38,"type":"quantitative"}}},
  {"mark":{"type":"text","align":"right","text":["-39.938","-39.911"],"lineHeight":19.5,"color":"#ff00ff"},"encoding":{"x":{"datum":5.63,"type":"quantitative"},"y":{"datum":-35.38,"type":"quantitative"}}},
  {"mark":{"type":"text","align":"left","text":["dB","dB"],"lineHeight":19.5,"color":"#ff00ff"},"encoding":{"x":{"datum":5.78,"type":"quantitative"},"y":{"datum":-35.38,"type":"quantitative"}}},
  {"mark":{"type":"text","align":"left","text":"Ch1\u00a0\u00a0fb\u00a0\u00a0Start\u00a0\u00a01 GHz"},"encoding":{"x":{"datum":1.01,"type":"quantitative"},"y":{"datum":-45.34,"type":"quantitative"}}},
  {"mark":{"type":"text","align":"left","text":"Pb\u00a0\u00a0\u00a0-10 dBm"},"encoding":{"x":{"datum":3.045,"type":"quantitative"},"y":{"datum":-45.34,"type":"quantitative"}}},
  {"mark":{"type":"text","align":"right","text":"Stop\u00a0\u00a06 GHz"},"encoding":{"x":{"datum":5.985,"type":"quantitative"},"y":{"datum":-45.34,"type":"quantitative"}}},
  {"mark":{"type":"text","align":"left","text":["Coupling Factor","&Frequency Sensitivity"],"lineHeight":41,"font":"DejaVu Sans","fontWeight":"bold","fontSize":26,"color":"#cc6e8c"},"encoding":{"x":{"datum":2.59,"type":"quantitative"},"y":{"datum":-37.425,"type":"quantitative"}}}
 ]
},
{
 "width": 638, "height": 400,
 "layer": [
  {"data":{"name":"vgrid"},"mark":{"type":"rule","color":"#262626","strokeWidth":1.4},"encoding":{"x":{"field":"f","type":"quantitative","scale":{"domain":[1,6],"nice":false,"zero":false}}}},
  {"data":{"name":"ticks"},"transform":[{"filter":"datum.p==4"}],"mark":{"type":"rule","color":"#262626","strokeWidth":1.4},"encoding":{"y":{"field":"v","type":"quantitative","scale":{"domain":[1000,2000],"nice":false,"zero":false}}}},
  {"data":{"name":"ticks"},"transform":[{"filter":"datum.p==4"}],"mark":{"type":"text","align":"left","fontSize":16,"fill":"white","stroke":"white","strokeWidth":10,"strokeJoin":"round"},"encoding":{"x":{"datum":1.175,"type":"quantitative"},"y":{"field":"v","type":"quantitative"},"text":{"field":"lab","type":"nominal"}}},
  {"data":{"name":"ticks"},"transform":[{"filter":"datum.p==4"}],"mark":{"type":"text","align":"left","fontSize":16},"encoding":{"x":{"datum":1.175,"type":"quantitative"},"y":{"field":"v","type":"quantitative"},"text":{"field":"lab","type":"nominal"}}},
  {"data":{"name":"trace"},"transform":[{"filter":"datum.p==4"}],"mark":{"type":"line","color":"#3cec8c","strokeWidth":1.4,"interpolate":"monotone"},"encoding":{"x":{"field":"f","type":"quantitative"},"y":{"field":"v","type":"quantitative"}}},
  {"mark":{"type":"point","shape":"triangle-left","filled":true,"size":150,"color":"#ffee00","opacity":1,"clip":true},"encoding":{"x":{"datum":5.82,"type":"quantitative"},"y":{"datum":1000,"type":"quantitative"}}},
  {"mark":{"type":"point","shape":"triangle-left","filled":true,"size":150,"color":"#1fdd72","opacity":1,"clip":true},"encoding":{"x":{"datum":5.94,"type":"quantitative"},"y":{"datum":1000,"type":"quantitative"}}},
  {"data":{"name":"markers"},"transform":[{"filter":"datum.p==4"}],"mark":{"type":"point","shape":"triangle-down","filled":true,"size":170,"color":"#2ee585","opacity":1,"yOffset":-7},"encoding":{"x":{"field":"f","type":"quantitative"},"y":{"field":"v","type":"quantitative"}}},
  {"data":{"name":"markers"},"transform":[{"filter":"datum.p==4"}],"mark":{"type":"text","fontSize":16,"color":"#2ee585","yOffset":-26},"encoding":{"x":{"field":"f","type":"quantitative"},"y":{"field":"v","type":"quantitative"},"text":{"field":"m","type":"nominal"}}},
  {"mark":{"type":"text","align":"left","text":["Trc7","Mem15[Trc7]"],"lineHeight":22.4},"encoding":{"x":{"datum":1.01,"type":"quantitative"},"y":{"datum":2100,"type":"quantitative"}}},
  {"mark":{"type":"rect","color":"#1fdd72"},"encoding":{"x":{"datum":1.97,"type":"quantitative"},"x2":{"datum":2.25},"y":{"datum":2078,"type":"quantitative"},"y2":{"datum":2133}}},
  {"mark":{"type":"rect","color":"#ffff00"},"encoding":{"x":{"datum":1.97,"type":"quantitative"},"x2":{"datum":2.25},"y":{"datum":2015,"type":"quantitative"},"y2":{"datum":2075}}},
  {"mark":{"type":"text","text":["S22","S22"],"lineHeight":22.4,"color":"white"},"encoding":{"x":{"datum":2.11,"type":"quantitative"},"y":{"datum":2100,"type":"quantitative"}}},
  {"mark":{"type":"text","align":"left","text":["SWR","SWR"],"lineHeight":22.4},"encoding":{"x":{"datum":2.335,"type":"quantitative"},"y":{"datum":2100,"type":"quantitative"}}},
  {"mark":{"type":"text","align":"left","text":["100 mU/","100 mU/"],"lineHeight":22.4},"encoding":{"x":{"datum":2.785,"type":"quantitative"},"y":{"datum":2100,"type":"quantitative"}}},
  {"mark":{"type":"text","align":"left","text":["Ref 1 U","Ref 1 U"],"lineHeight":22.4},"encoding":{"x":{"datum":3.42,"type":"quantitative"},"y":{"datum":2100,"type":"quantitative"}}},
  {"mark":{"type":"text","align":"left","text":["Cal","Invisible"],"lineHeight":22.4},"encoding":{"x":{"datum":4.11,"type":"quantitative"},"y":{"datum":2100,"type":"quantitative"}}},
  {"mark":{"type":"text","align":"right","text":"4"},"encoding":{"x":{"datum":5.985,"type":"quantitative"},"y":{"datum":2100,"type":"quantitative"}}},
  {"mark":{"type":"rect","color":"#1fdd72"},"encoding":{"x":{"datum":1.105,"type":"quantitative"},"x2":{"datum":1.365},"y":{"datum":1925,"type":"quantitative"},"y2":{"datum":1978}}},
  {"mark":{"type":"text","text":"S22","color":"#111111"},"encoding":{"x":{"datum":1.235,"type":"quantitative"},"y":{"datum":1951.5,"type":"quantitative"}}},
  {"mark":{"type":"text","align":"left","text":["M1","M2"],"lineHeight":19.5,"color":"#2ee585"},"encoding":{"x":{"datum":3.13,"type":"quantitative"},"y":{"datum":1953,"type":"quantitative"}}},
  {"mark":{"type":"text","align":"right","text":["1.000000","6.000000"],"lineHeight":19.5,"color":"#2ee585"},"encoding":{"x":{"datum":4.415,"type":"quantitative"},"y":{"datum":1953,"type":"quantitative"}}},
  {"mark":{"type":"text","align":"left","text":["GHz","GHz"],"lineHeight":19.5,"color":"#2ee585"},"encoding":{"x":{"datum":4.605,"type":"quantitative"},"y":{"datum":1953,"type":"quantitative"}}},
  {"mark":{"type":"text","align":"right","text":["1.0201","1.0420"],"lineHeight":19.5,"color":"#2ee585"},"encoding":{"x":{"datum":5.70,"type":"quantitative"},"y":{"datum":1953,"type":"quantitative"}}},
  {"mark":{"type":"text","align":"left","text":["U","U"],"lineHeight":19.5,"color":"#2ee585"},"encoding":{"x":{"datum":5.845,"type":"quantitative"},"y":{"datum":1953,"type":"quantitative"}}},
  {"mark":{"type":"text","align":"left","text":"Ch1\u00a0\u00a0fb\u00a0\u00a0Start\u00a0\u00a01 GHz"},"encoding":{"x":{"datum":1.01,"type":"quantitative"},"y":{"datum":955,"type":"quantitative"}}},
  {"mark":{"type":"text","align":"left","text":"Pb\u00a0\u00a0\u00a0-10 dBm"},"encoding":{"x":{"datum":3.045,"type":"quantitative"},"y":{"datum":955,"type":"quantitative"}}},
  {"mark":{"type":"text","align":"right","text":"Stop\u00a0\u00a06 GHz"},"encoding":{"x":{"datum":5.985,"type":"quantitative"},"y":{"datum":955,"type":"quantitative"}}},
  {"mark":{"type":"text","align":"left","text":"VSWR","font":"DejaVu Sans","fontWeight":"bold","fontSize":26,"color":"#cc6e8c"},"encoding":{"x":{"datum":2.515,"type":"quantitative"},"y":{"datum":1733,"type":"quantitative"}}}
 ]
}
]
}
